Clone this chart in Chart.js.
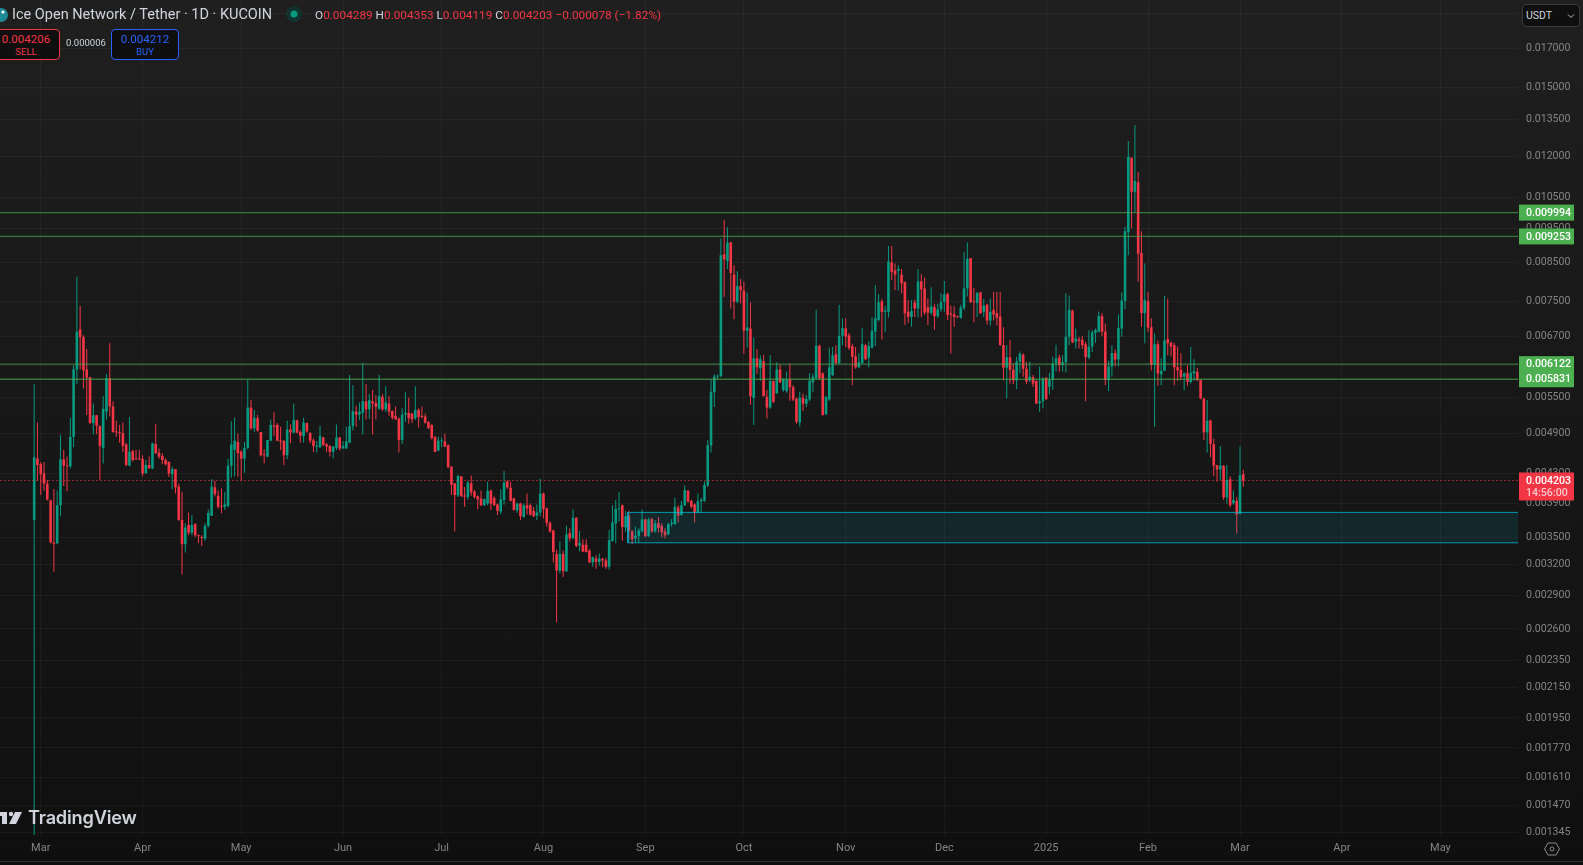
<!DOCTYPE html>
<html>
<head>
<meta charset="utf-8">
<title>ICE / USDT</title>
<script src="https://cdn.jsdelivr.net/npm/chart.js@4"></script>
<style>
html, body { margin: 0; padding: 0; width: 1583px; height: 865px; overflow: hidden; }
body { background: linear-gradient(to bottom, #1f1f1f 0%, #0f0f0f 100%); font-family: Roboto, sans-serif; position: relative; }
canvas { position: absolute; left: 0; top: 0; }
.abs { position: absolute; white-space: nowrap; }
#title { left: 12px; top: 7px; font-size: 14.5px; line-height: 16px; color: #d1d4dc; }
#ohlc { left: 315px; top: 7px; font-size: 11.8px; line-height: 16px; color: #f23645; }
#ohlc b { color: #d1d4dc; font-weight: 400; }
.box { top: 29px; height: 28px; background: #0f0f0f; border-radius: 4px; text-align: center; font-size: 11.5px; line-height: 14px; padding-top: 2px; box-sizing: content-box; }
.box small { display: block; font-size: 9.5px; line-height: 11px; }
#sell { left: -8px; width: 66px; height: 27px; border: 1px solid #f23645; color: #f23645; }
#buy { left: 111px; width: 66px; height: 27px; border: 1px solid #2962ff; color: #2962ff; }
#spread { left: 66px; top: 37px; font-size: 9.5px; line-height: 12px; color: #d1d4dc; }
#usdt { left: 1522px; top: 4px; width: 56px; height: 21px; border: 1px solid #3a3a3a; border-radius: 4px; background: #0f0f0f; color: #d1d4dc; font-size: 10.5px; line-height: 21px; text-indent: 3px; }
#logo { left: 28px; top: 805px; font-family: Inter, sans-serif; font-weight: 600; font-size: 18.2px; line-height: 24px; letter-spacing: -0.2px; color: #d1d4dc; }
</style>
</head>
<body>
<canvas id="myChart" width="1583" height="865"></canvas>

<div class="abs" id="title">Ice Open Network / Tether · 1D · KUCOIN</div>
<svg class="abs" style="left:0;top:6px" width="10" height="18"><circle cx="1" cy="9" r="7" fill="#1d8a96"/><circle cx="3" cy="6" r="1.6" fill="#fff"/></svg>
<svg class="abs" style="left:285px;top:5px" width="18" height="18"><circle cx="9" cy="9" r="8" fill="#0f3a33" opacity="0.7"/><circle cx="9" cy="9" r="3.5" fill="#089981"/></svg>
<div class="abs" id="ohlc"><b>O</b>0.004289 <b>H</b>0.004353 <b>L</b>0.004119 <b>C</b>0.004203 −0.000078 (−1.82%)</div>
<div class="abs box" id="sell">0.004206<small>SELL</small></div>
<div class="abs" id="spread">0.000006</div>
<div class="abs box" id="buy">0.004212<small>BUY</small></div>
<div class="abs" id="usdt">USDT<svg style="position:absolute;right:4px;top:8px" width="8" height="6"><path d="M1 1.5 L4 4.5 L7 1.5" stroke="#c0c0c0" fill="none"/></svg></div>
<svg class="abs" style="left:0;top:811px" width="24" height="14"><rect x="-4" y="1" width="11" height="4" fill="#d1d4dc"/><rect x="2" y="1" width="5" height="12" fill="#d1d4dc"/><circle cx="11" cy="3" r="2.2" fill="#d1d4dc"/><polygon points="15,1 22,1 16,13 9,13" fill="#d1d4dc"/></svg>
<div class="abs" id="logo">TradingView</div>
<svg class="abs" style="left:1544px;top:841px" width="16" height="16"><polygon points="4,2 12,2 15.5,8 12,14 4,14 0.5,8" fill="none" stroke="#8a8a8a"/><circle cx="8" cy="8" r="2" fill="none" stroke="#8a8a8a"/></svg>
<div class="abs" style="left:0;top:861px;width:1583px;height:1px;background:#333"></div>

<script>
// daily candles, Feb 28 2024 to Mar 2 2025, prices in millionths of a USDT
var opens = [
3697,4514,4430,4300,4160,3940,3440,3430,3880,4500,
4410,4400,4840,6020,6850,6680,6020,5870,5060,5190,
5015,4670,5250,5850,5340,4915,4915,4900,4720,4410,
4620,4510,4510,4505,4300,4420,4370,4730,4600,4550,
4490,4465,4290,4360,4120,3700,3420,3640,3550,3650,
3520,3500,3480,3630,3750,4110,4000,3870,3860,3870,
4410,4640,4760,4610,4510,4670,5320,4975,5140,4915,
4570,4540,4780,5020,5030,4785,4775,4560,4955,4905,
5105,4915,4850,5060,4900,4785,4690,4680,4830,4725,
4700,4610,4670,4830,4660,4660,4750,5010,5250,5200,
5230,5430,5290,5430,5400,5300,5510,5290,5390,5260,
5180,5135,4790,5200,5230,5220,5140,5280,5180,5170,
5080,5030,4840,4630,4770,4770,4710,4395,4165,4005,
4260,4000,3985,4165,4055,3995,3965,3880,3900,4065,
3970,3890,3800,3945,4190,4105,3965,3815,3900,3735,
3880,3880,3810,3750,3790,4030,3840,3665,3575,3315,
3140,3315,3135,3545,3485,3725,3405,3415,3415,3350,
3225,3265,3230,3262,3245,3180,3455,3660,3830,3880,
3610,3745,3565,3485,3510,3565,3705,3510,3710,3565,
3660,3630,3565,3530,3650,3650,3850,3760,3880,4065,
3935,3890,3790,3930,3935,4135,4705,5590,5880,5890,
8730,8550,9080,8180,7490,7880,7765,6820,6870,5490,
6240,6040,6180,5510,5320,5800,5570,6020,5630,5610,
5830,5680,5475,5070,5490,5385,5460,5770,5850,6500,
5940,5210,5460,5910,6320,6140,6710,6870,6720,6490,
6280,6060,6140,6510,6250,6460,6800,7060,7500,7250,
7250,8510,8290,8280,8180,7980,7250,7130,7470,7330,
8000,7820,7360,7230,7360,7150,7310,7490,7680,7210,
7190,7145,7110,7340,7820,8630,7500,7460,7720,7250,
7420,7050,7290,7220,7140,6510,6050,6260,6010,5810,
6170,6310,6030,5810,5870,5795,5395,5430,5860,5690,
5825,6140,6255,6105,6160,6690,7280,6580,6635,6620,
6530,6250,6480,6770,6800,7150,6800,5815,6075,6345,
6215,6870,7515,9380,11935,10690,11020,8770,7220,7510,
6900,6105,6530,5925,5990,6640,6560,6510,6065,6010,
5880,5945,5780,5940,5970,5815,5480,4910,5100,4725,
4418,4355,4405,3980,4220,3905,3935,3775,4289];
var highs = [
5735,5070,4460,4460,4210,3950,4090,4070,4870,4640,
4540,5150,6100,8120,7390,6720,6430,5880,5390,5190,
5015,5520,5930,6550,5430,5100,5030,5070,4750,5160,
4640,4640,4640,4560,4490,4540,4750,5050,4660,4590,
4515,4465,4395,4360,4160,4050,3660,3790,3760,3660,
3530,3520,3660,3825,4220,4200,4070,4100,4050,4510,
5090,5150,4890,4640,4760,5830,5450,5280,5200,4915,
4650,4790,5120,5240,5060,5000,4790,5100,5035,5390,
5115,4945,5150,5070,4915,4815,4775,5015,4840,4745,
4710,4700,5035,4830,4770,5000,5910,5720,5350,5410,
6150,5740,5560,5630,5530,5910,5560,5700,5520,5270,
5340,5150,5310,5590,5490,5230,5700,5310,5340,5220,
5090,5040,4850,4840,4830,4890,4725,4400,4165,4280,
4260,4115,4200,4270,4075,4005,4065,3965,4185,4085,
3995,3900,4085,4335,4205,4190,3975,3910,3910,3900,
4030,3900,3860,3890,4225,4040,3850,3680,3585,3360,
3450,3350,3630,3600,3825,3735,3570,3475,3475,3365,
3285,3300,3320,3270,3270,3580,3880,3950,4050,3890,
3810,3810,3580,3620,3600,3825,3715,3725,3725,3700,
3735,3660,3600,3665,3710,3975,3880,3935,4140,4075,
3950,3900,4030,3975,4190,4790,5830,5930,5920,9190,
9760,9530,9080,8430,8270,8060,8000,7710,7470,6670,
6430,6300,6310,5630,6300,5800,6160,6120,5850,5980,
6130,5720,5490,5600,5570,5540,5950,5940,7300,6520,
5970,5520,6460,6470,6510,7420,7100,7100,6770,6540,
6470,6340,6880,6540,6590,7120,7900,7680,7550,7380,
8970,8970,8480,8430,8330,8000,7530,7530,7540,8330,
8190,8100,7570,7850,7440,7440,7700,8010,7710,7400,
7380,7150,7420,8800,9080,8630,7840,7740,7740,7560,
7440,7570,7740,7740,7740,6900,6510,6620,6140,6270,
6380,6340,6170,6170,5910,5810,6070,5870,5870,5950,
6270,6520,6310,6300,7700,7640,7300,6870,6690,6710,
6580,6830,6830,6870,7260,7220,6980,6190,6510,6420,
7190,7720,9550,12600,11935,13266,11400,9410,8480,7740,
7100,6760,6610,6240,7640,7570,6590,6560,6480,6340,
5960,6100,6470,6220,6050,5830,5490,5450,5120,4810,
4418,4700,4418,4418,4260,4070,3980,4690,4353];
var lows = [
1330,4195,4010,4070,3940,3430,3130,3420,3750,4130,
4060,4370,4680,5740,6020,5660,5190,5050,4880,4880,
4210,4440,5120,5170,4910,4840,4750,4610,4400,4400,
4465,4490,4490,4260,4300,4370,4360,4580,4510,4430,
4410,4250,4090,4030,3690,3100,3330,3520,3520,3500,
3430,3400,3460,3610,3750,3990,3840,3780,3820,3850,
4240,4260,4250,4200,4310,4650,4950,4920,4920,4540,
4440,4530,4770,4850,4770,4640,4420,4500,4740,4895,
4895,4750,4750,4905,4740,4610,4600,4670,4700,4610,
4540,4515,4640,4630,4660,4660,4740,4940,5000,5110,
4875,5120,5130,4875,5120,5280,5260,5240,5180,5120,
5120,4600,4730,5080,5050,5060,5110,4990,5140,5055,
4960,4800,4610,4620,4680,4680,4380,4010,3565,3985,
3985,3860,3950,4000,3965,3830,3870,3870,3880,3820,
3870,3760,3770,3885,4090,3930,3815,3785,3700,3725,
3765,3750,3735,3700,3745,3720,3620,3550,3225,2655,
3110,3075,3125,3450,3475,3390,3340,3335,3330,3220,
3180,3160,3190,3175,3160,3150,3450,3430,3680,3460,
3560,3470,3420,3440,3440,3555,3500,3500,3550,3550,
3550,3495,3485,3520,3620,3640,3670,3750,3870,3915,
3840,3670,3780,3790,3920,4115,4600,5330,5820,5870,
7615,8330,7330,7080,7450,7450,6330,6460,5370,5030,
5930,5800,5520,5135,5300,5400,5560,5760,5600,5580,
5440,5430,5050,5000,5260,5330,5430,5600,5820,5820,
5180,5190,5440,5890,6120,6120,6510,6470,6410,5720,
6030,6040,6130,6200,6060,6440,6490,7030,6630,6790,
7120,8040,7780,7770,7700,6950,7000,6910,7130,7120,
7130,7180,6950,7180,6840,7110,7250,7250,7060,6330,
6910,7100,7090,7290,7620,7460,7010,7130,7200,7130,
6960,6940,7050,6940,6500,5810,5480,5750,5740,5650,
5950,5880,5740,5780,5690,5380,5250,5310,5450,5550,
5630,5980,5975,5980,5960,6510,6550,6440,6440,6430,
5430,6220,6370,6560,6790,6700,5720,5610,5880,6075,
6075,6690,7310,8710,9490,10000,7990,6910,6550,6800,
6000,5000,5710,5720,5990,6300,6280,5720,5800,5810,
5620,5710,5750,5800,5795,5465,4790,4600,4530,4260,
4190,4210,3945,3900,3850,3885,3540,3765,4119];
var closes = [
4530,4418,4290,4160,3950,3440,3425,3880,4500,4410,
4400,4840,6020,6800,6680,6000,5860,5060,5190,5015,
4700,5300,5850,5340,4915,4910,4900,4700,4420,4610,
4490,4500,4500,4300,4420,4370,4740,4590,4540,4490,
4430,4300,4360,4110,3700,3420,3610,3550,3640,3520,
3510,3490,3630,3785,4120,4020,3860,3860,3890,4410,
4720,4780,4590,4510,4670,5320,4975,5150,4940,4560,
4560,4790,5030,5000,4780,4765,4560,4955,4910,5115,
4905,4860,5070,4925,4780,4700,4700,4850,4715,4690,
4610,4690,4830,4660,4700,4770,5010,5260,5200,5250,
5430,5290,5450,5390,5330,5520,5290,5410,5250,5150,
5120,4790,5200,5230,5140,5120,5280,5160,5160,5065,
4980,4820,4610,4780,4780,4690,4385,4145,4010,4265,
3995,3990,4175,4045,3985,3955,3880,3955,4065,3900,
3880,3810,3955,4175,4110,3935,3820,3900,3745,3880,
3840,3765,3745,3790,4030,3830,3665,3565,3335,3140,
3315,3135,3530,3485,3725,3400,3435,3340,3335,3225,
3280,3230,3265,3245,3180,3466,3670,3835,3840,3615,
3745,3570,3475,3515,3575,3705,3510,3705,3565,3660,
3605,3555,3520,3650,3665,3860,3750,3880,4075,3925,
3860,3790,3930,3950,4145,4710,5600,5880,5890,8710,
8590,9070,8220,7490,7880,7780,6820,6895,5520,6240,
6060,6220,5520,5320,5800,5420,6020,5770,5830,5820,
5680,5460,5080,5490,5385,5470,5800,5880,6500,5850,
5195,5510,6060,6300,6140,6710,6880,6690,6450,6270,
6060,6160,6530,6220,6490,6820,7100,7480,7250,7280,
8530,8250,8180,8330,7950,7220,7130,7270,7330,8000,
7800,7230,7230,7380,7150,7310,7490,7670,7180,7180,
7130,7135,7350,7820,8610,7480,7480,7700,7220,7400,
7050,7250,7190,7110,6510,6055,6260,6010,5810,6170,
6330,6030,5790,5880,5750,5390,5430,5840,5470,5825,
6135,6240,6105,6160,6690,7300,6570,6650,6600,6510,
6265,6480,6785,6835,7150,6800,5815,6075,6345,6215,
6880,7520,9410,11960,10690,11070,8750,7220,7530,6890,
6105,6530,5940,5990,6610,6550,6480,6060,6000,5870,
5940,5780,5955,5985,5815,5480,4910,5100,4730,4410,
4355,4410,3980,4210,3880,3945,3765,4275,4203];

// tick labels
var monthLabels = ['Mar','Apr','May','Jun','Jul','Aug','Sep','Oct','Nov','Dec','2025','Feb','Mar','Apr','May'];
var monthCandles = [2,33,63,94,124,155,186,216,247,277,308,339,367,398,428];
var priceTicks = [19000,17000,15000,13500,12000,10500,9500,8500,7500,6700,6100,5500,4900,4300,3900,3500,3200,2900,2600,2350,2150,1950,1770,1610,1470,1345];

// drawn levels
var levels = [9994,9253,6122,5831];
var lastPrice = 4203;
var zoneTop = 3791;
var zoneBottom = 3436;
var zoneStart = 180.7;

var firstCandle = -10.4;
var lastCandle = 451.6;
var upColor = '#089981';
var downColor = '#f23645';

function fmt(v) { return (v / 1000000).toFixed(6); }
function candleColor(c) { return closes[c.dataIndex] >= opens[c.dataIndex] ? upColor : downColor; }

var wicks = opens.map(function (o, i) { return { x: i, y: [lows[i], highs[i]] }; });
var bodies = opens.map(function (o, i) { return { x: i, y: [o, closes[i]] }; });

function flatLine(value, from, color, width, dash) {
  return {
    type: 'line',
    data: [{ x: from, y: value }, { x: lastCandle, y: value }],
    borderColor: color,
    borderWidth: width,
    borderDash: dash || [],
    pointRadius: 0,
    fill: false,
    order: 1
  };
}

var datasets = [
  { data: wicks, backgroundColor: candleColor, maxBarThickness: 1, grouped: false, barPercentage: 1, categoryPercentage: 1, inflateAmount: 0, minBarLength: 1, order: 4 },
  { data: bodies, backgroundColor: candleColor, maxBarThickness: 2.6, grouped: false, barPercentage: 1, categoryPercentage: 1, inflateAmount: 0, minBarLength: 1, order: 3 },
  flatLine(lastPrice, firstCandle, 'rgba(242,54,69,0.55)', 1, [2, 2])
];
levels.forEach(function (l) { datasets.push(flatLine(l, firstCandle, 'rgba(76,175,80,0.62)', 1.3)); });

// teal zone: two edges filled between, then the outline
var zoneFill = flatLine(zoneTop, zoneStart, 'rgba(0,0,0,0)', 0);
zoneFill.fill = '+1';
zoneFill.backgroundColor = 'rgba(0,188,212,0.115)';
datasets.push(zoneFill);
datasets.push(flatLine(zoneBottom, zoneStart, 'rgba(0,0,0,0)', 0));
datasets.push({
  type: 'line',
  data: [{ x: lastCandle, y: zoneTop }, { x: zoneStart, y: zoneTop }, { x: zoneStart, y: zoneBottom }, { x: lastCandle, y: zoneBottom }],
  borderColor: 'rgba(0,188,212,0.8)',
  borderWidth: 1,
  pointRadius: 0,
  fill: false,
  order: 1
});

// price tags on the right axis, placed by the y scale
var priceTags = {
  id: 'priceTags',
  afterDraw: function (chart) {
    var c = chart.ctx, y = chart.scales.y, left = 1519, width = 55;
    c.save();
    c.textBaseline = 'middle';
    c.textAlign = 'left';
    c.font = '500 10.6px Roboto';
    levels.forEach(function (l) {
      var py = y.getPixelForValue(l);
      c.fillStyle = '#4caf50';
      c.fillRect(left, py - 8, width, 16);
    });
    levels.forEach(function (l) {
      c.fillStyle = '#ffffff';
      c.fillText(fmt(l), left + 7, y.getPixelForValue(l) + 0.5);
    });
    var p = y.getPixelForValue(lastPrice);
    c.fillStyle = downColor;
    c.fillRect(left, p - 8, width, 28);
    c.fillStyle = '#ffffff';
    c.fillText(fmt(lastPrice), left + 7, p + 0.5);
    c.fillStyle = '#fbc6ca';
    c.fillText('14:56:00', left + 7, p + 12.5);
    c.restore();
  }
};

var ctx = document.getElementById('myChart');
var myChart = new Chart(ctx, {
  type: 'bar',
  data: { datasets: datasets },
  plugins: [priceTags],
  options: {
    responsive: false,
    animation: false,
    events: [],
    layout: { padding: 0 },
    plugins: { legend: { display: false }, tooltip: { enabled: false }, title: { display: false } },
    scales: {
      x: {
        type: 'linear',
        offset: false,
        min: firstCandle,
        max: lastCandle,
        border: { display: false },
        grid: { color: 'rgba(255,255,255,0.045)', offset: false, drawTicks: false },
        afterBuildTicks: function (s) { s.ticks = monthCandles.map(function (v) { return { value: v }; }); },
        afterFit: function (s) { s.height = 30; s.paddingLeft = 0; s.paddingRight = 0; },
        ticks: {
          autoSkip: false,
          maxRotation: 0,
          padding: 7,
          color: '#848484',
          font: { family: 'Roboto', size: 11 },
          callback: function (v) { return monthLabels[monthCandles.indexOf(v)]; }
        }
      },
      y: {
        type: 'logarithmic',
        position: 'right',
        min: 1335.6,
        max: 19875,
        border: { display: false },
        grid: { color: 'rgba(255,255,255,0.045)', drawTicks: false },
        afterBuildTicks: function (s) { s.ticks = priceTicks.map(function (v) { return { value: v }; }); },
        afterFit: function (s) { s.width = 65; s.paddingTop = 0; s.paddingBottom = 0; },
        ticks: {
          autoSkip: false,
          padding: 8,
          color: '#848484',
          font: { family: 'Roboto', size: 10.6 },
          callback: function (v) { return fmt(v); }
        }
      }
    }
  }
});
</script>
</body>
</html>
